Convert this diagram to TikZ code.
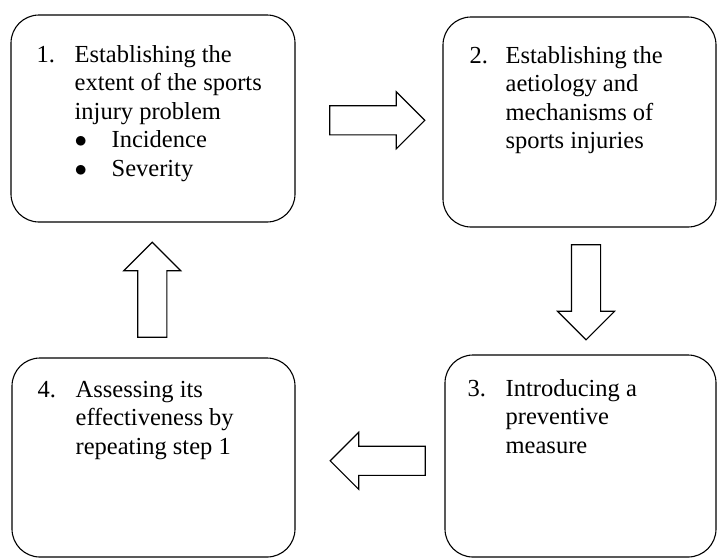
\documentclass[tikz,border=0pt]{standalone}
\usepackage{fontspec}
\setmainfont{Liberation Serif}
\usetikzlibrary{shapes.arrows,calc,positioning}

\tikzset{
  stepbox/.style={draw, line width=1.1pt, rounded corners=28pt, inner sep=0pt},
  blockarrow/.style={draw, line width=1.1pt, single arrow, single arrow head extend=14pt,
    minimum height=95pt, minimum width=56pt, inner sep=0pt,
    text width=28pt, text height=14pt, text depth=14pt},
  steptext/.style={anchor=base west, inner sep=0pt, font=\fontsize{24.5}{28.5}\selectfont},
}

\begin{document}
\begin{tikzpicture}
          \useasboundingbox (0,0) rectangle (717pt,-558pt);

          % the four steps
          \node[stepbox, minimum width=284pt, minimum height=207pt] (box1) at (153pt,-118.5pt) {};
          \node[stepbox, minimum width=273pt, minimum height=210pt] (box2) at (579.5pt,-122pt) {};
          \node[stepbox, minimum width=271pt, minimum height=202pt] (box3) at (580.5pt,-456pt) {};
          \node[stepbox, minimum width=283pt, minimum height=199pt] (box4) at (153.5pt,-457.5pt) {};

          \node[steptext] (num1) at ($(box1.north west)+(26pt,-48pt)$) {1.};
          \node[steptext, xshift=38pt] (txt1) at (num1.base west) {\begin{tabular}[t]{@{}l@{}}
            Establishing the\\ extent of the sports\\ injury problem\\
            \makebox[37pt][l]{$\bullet$}Incidence\\
            \makebox[37pt][l]{$\bullet$}Severity\end{tabular}};

          \node[steptext] (num2) at ($(box2.north west)+(27pt,-47pt)$) {2.};
          \node[steptext, xshift=36pt] (txt2) at (num2.base west) {\begin{tabular}[t]{@{}l@{}}
            Establishing the\\ aetiology and\\ mechanisms of\\ sports injuries\end{tabular}};

          \node[steptext] (num3) at ($(box3.north west)+(23pt,-42pt)$) {3.};
          \node[steptext, xshift=38pt] (txt3) at (num3.base west) {\begin{tabular}[t]{@{}l@{}}
            Introducing a\\ preventive\\ measure\end{tabular}};

          \node[steptext] (num4) at ($(box4.north west)+(26pt,-40pt)$) {4.};
          \node[steptext, xshift=38pt] (txt4) at (num4.base west) {\begin{tabular}[t]{@{}l@{}}
            Assessing its\\ effectiveness by\\ repeating step 1\end{tabular}};

          % block arrows between the steps
          \node[blockarrow] (a12) at ($(box1.east)!0.5!(box2.west)+(1pt,0)$) {};
          \node[blockarrow, shape border rotate=270] (a23) at ($(box2.south)!0.5!(box3.north)+(6pt,6pt)$) {};
          \node[blockarrow, shape border rotate=180] (a34) at ($(box3.west)!0.5!(box4.east)+(15pt,-4pt)$) {};
          \node[blockarrow, shape border rotate=90] (a41) at ($(box4.north)!0.5!(box1.south)+(-1pt,-7pt)$) {};

\end{tikzpicture}
\end{document}
